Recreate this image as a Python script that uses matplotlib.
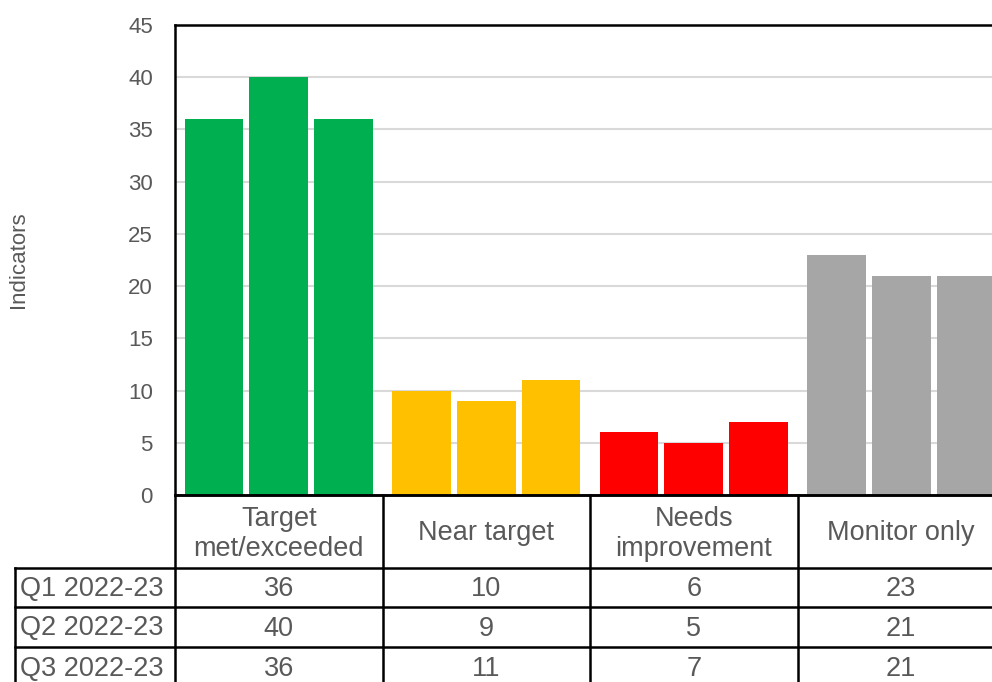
import numpy as np
import matplotlib
matplotlib.use("Agg")
import matplotlib.pyplot as plt
from matplotlib import transforms

plt.rcParams['font.family'] = ['Liberation Sans', 'DejaVu Sans']

categories = ['Target\nmet/exceeded', 'Near target', 'Needs\nimprovement', 'Monitor only']
quarters = ['Q1 2022-23', 'Q2 2022-23', 'Q3 2022-23']
q1 = [36, 10, 6, 23]
q2 = [40, 9, 5, 21]
q3 = [36, 11, 7, 21]
cat_colors = ['#00B050', '#FFC000', '#FF0000', '#A6A6A6']

text_col = '#595959'

fig = plt.figure(figsize=(9.92, 6.82), dpi=100)
W, H = 992, 682
# axes in pixels: left 175, top 25, bottom 495, category width 207.5
ax = fig.add_axes([175 / W, (H - 495) / H, 830 / W, 470 / H])

x = np.arange(len(categories))
offsets = [-0.312, 0, 0.312]
for vals, off in zip([q1, q2, q3], offsets):
    ax.bar(x + off, vals, width=0.284, color=cat_colors, zorder=2)

ax.set_xlim(-0.5, 3.5)
ax.set_ylim(0, 45)
ax.set_yticks(range(0, 46, 5))
ax.set_xticks([])
ax.yaxis.grid(True, color='#D9D9D9', lw=1.5, zorder=0)
ax.set_axisbelow(True)
ax.tick_params(axis='y', length=0, pad=16, labelsize=16, labelcolor=text_col)
for s in ['left', 'top', 'bottom']:
    ax.spines[s].set_color('black')
    ax.spines[s].set_linewidth(1.8)
ax.spines['right'].set_visible(False)

ax.set_ylabel('Indicators', fontsize=16, color=text_col)
ax.yaxis.set_label_coords(-0.176, 0.5)

# data table under the chart
tr = transforms.blended_transform_factory(ax.transData, ax.transAxes)

def ya(px):
    return (495 - px) / 470

row_edges = [495, 568, 607, 647, 688]
left_px = 15
x_left = -0.5 + (left_px - 175) / 207.5
lw = 1.8

# horizontal lines
ax.plot([-0.5, 3.5], [ya(495)] * 2, color='black', lw=lw, transform=tr, clip_on=False)
for yp in row_edges[1:]:
    ax.plot([x_left, 3.5], [ya(yp)] * 2, color='black', lw=lw, transform=tr, clip_on=False)
# vertical lines
ax.plot([x_left, x_left], [ya(568), ya(688)], color='black', lw=lw, transform=tr, clip_on=False)
for k in range(len(categories) + 1):
    ax.plot([k - 0.5, k - 0.5], [ya(495), ya(688)], color='black', lw=lw, transform=tr, clip_on=False)

# header labels
for i, c in enumerate(categories):
    ax.text(i, ya((495 + 568) / 2 + 2), c, ha='center', va='center', fontsize=19.5,
            color=text_col, linespacing=1.2, transform=tr, clip_on=False)

# rows
for r, (q, vals) in enumerate(zip(quarters, [q1, q2, q3])):
    yc = ya((row_edges[r + 1] + row_edges[r + 2]) / 2 + 1.5)
    ax.text(x_left + 0.025, yc, q, ha='left', va='center', fontsize=19.5,
            color=text_col, transform=tr, clip_on=False)
    for i, v in enumerate(vals):
        ax.text(i, yc, str(v), ha='center', va='center', fontsize=19.5,
                color=text_col, transform=tr, clip_on=False)

fig.savefig('out.png', dpi=100)
